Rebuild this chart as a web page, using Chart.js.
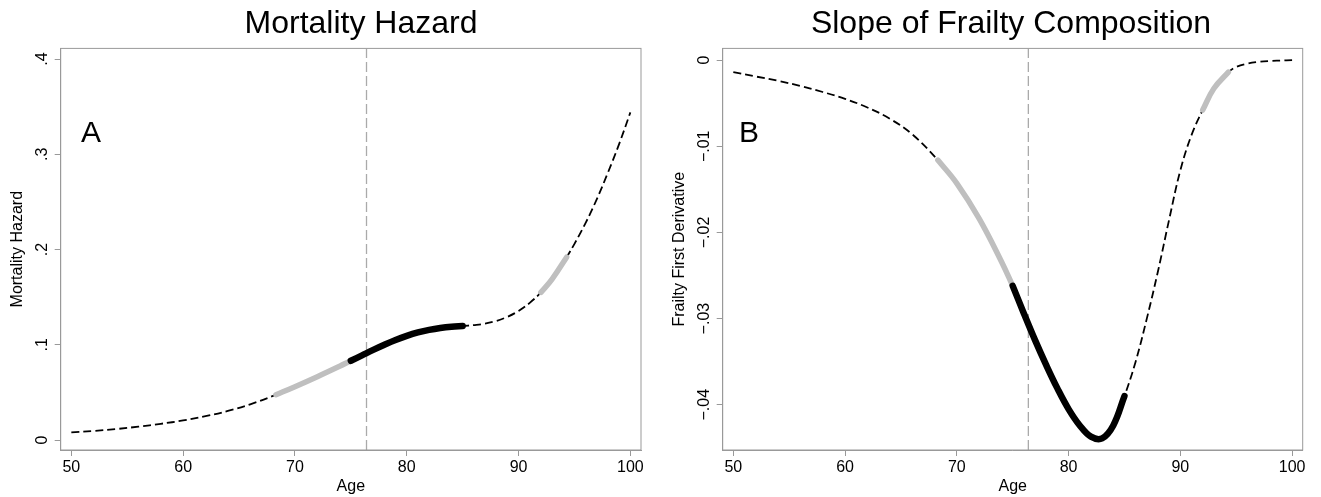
<!DOCTYPE html>
<html>
<head>
<meta charset="utf-8">
<script src="https://cdn.jsdelivr.net/npm/chart.js@4.4.1/dist/chart.umd.min.js"></script>
<style>
  html, body { margin: 0; padding: 0; background: #fff; overflow: hidden; }
  #wrap { position: relative; width: 1321px; height: 497px; overflow: hidden; background: #fff; }
  canvas { position: absolute; top: 0; }
  #hazardChart { left: 0; }
  #frailtyChart { left: 660px; }
</style>
</head>
<body>
<div id="wrap">
  <canvas id="hazardChart" width="722" height="497"></canvas>
  <canvas id="frailtyChart" width="702" height="497"></canvas>
</div>
<script>
// values (age on x)
const ages = [50, 52, 54, 56, 58, 60, 62, 64, 66, 68.3, 70, 72, 74, 75, 76, 77, 78, 79, 80,
  81, 82, 83, 84, 85, 86, 87, 88, 89, 90, 91, 92, 93, 94.3, 95, 96, 97, 98, 99, 100];
const hazard = [0.0080, 0.0095, 0.0115, 0.0140, 0.0170, 0.0205, 0.0250, 0.0305, 0.0375, 0.0475,
  0.0560, 0.0665, 0.0775, 0.0832, 0.0889, 0.0946, 0.1000, 0.1050, 0.1093, 0.1129, 0.1157,
  0.1177, 0.1190, 0.1197, 0.1207, 0.1222, 0.1250, 0.1293, 0.1355, 0.1440, 0.1550, 0.1690,
  0.1920, 0.2060, 0.2280, 0.2530, 0.2810, 0.3110, 0.3440];
const frailtySlope = [-0.0014, -0.0019, -0.0024, -0.0030, -0.0037, -0.0045, -0.0055, -0.0068,
  -0.0086, -0.0116, -0.0143, -0.0184, -0.0234, -0.0262, -0.0294, -0.0325, -0.0354, -0.0381,
  -0.0405, -0.0424, -0.0437, -0.0439, -0.0424, -0.0390, -0.0350, -0.0300, -0.0245, -0.0185,
  -0.0128, -0.0087, -0.0058, -0.0033, -0.0014, -0.0008, -0.0004, -0.0002, -0.0001, -0.00005, 0];

const xTicks = [50, 60, 70, 80, 90, 100];
const hazardTicks = [0, 0.1, 0.2, 0.3, 0.4];
const hazardTickLabels = ['0', '.1', '.2', '.3', '.4'];
const frailtyTicks = [0, -0.01, -0.02, -0.03, -0.04];
const frailtyTickLabels = ['0', '\u2212.01', '\u2212.02', '\u2212.03', '\u2212.04'];

const cutoffAge = 76.4;
const grayRanges = [[68.3, 75], [92, 94.3]];
const blackRange = [75, 85];

const FONT = '"Liberation Sans", Arial, Helvetica, sans-serif';

function points(values, from, to) {
  return ages.map((a, i) => ({ x: a, y: values[i] })).filter(p => p.x >= from && p.x <= to);
}

function makeDatasets(values, yMin, yMax) {
  return [
    { data: points(values, blackRange[0], blackRange[1]), borderColor: '#000', borderWidth: 6.5, borderCapStyle: 'round' },
    ...grayRanges.map(r => ({
      data: points(values, r[0], r[1]), borderColor: '#bfbfbf', borderWidth: 5.5, borderCapStyle: 'round'
    })),
    { data: points(values, 50, 100), borderColor: '#000', borderWidth: 1.8, borderDash: [8, 4] },
    {
      data: [{ x: cutoffAge, y: yMin }, { x: cutoffAge, y: yMax }],
      borderColor: '#aaa', borderWidth: 1.3, borderDash: [10, 4], tension: 0
    }
  ];
}

// plot box, rotated y tick labels and panel letter
const framePlugin = {
  id: 'frame',
  afterDraw(chart, args, opts) {
    const { ctx, chartArea: a } = chart;
    const y = chart.scales.y;
    ctx.save();
    ctx.strokeStyle = '#999';
    ctx.lineWidth = 1;
    ctx.strokeRect(a.left, a.top, a.right - a.left, a.bottom - a.top);
    ctx.fillStyle = '#000';
    ctx.font = '16px ' + FONT;
    ctx.textAlign = 'center';
    ctx.textBaseline = 'alphabetic';
    opts.ticks.forEach((v, i) => {
      ctx.save();
      ctx.translate(a.left - 14, y.getPixelForValue(v));
      ctx.rotate(-Math.PI / 2);
      ctx.fillText(opts.labels[i], 0, 0);
      ctx.restore();
    });
    ctx.font = '30px ' + FONT;
    ctx.fillText(opts.letter, opts.letterX, 142);
    ctx.restore();
  }
};

function makeOptions(cfg) {
  const gray = '#999';
  return {
    responsive: false,
    animation: false,
    events: [],
    layout: { padding: 0 },
    elements: {
      point: { radius: 0 },
      line: { tension: 0.4, fill: false }
    },
    plugins: {
      legend: { display: false },
      tooltip: { enabled: false },
      title: {
        display: true, text: cfg.title, color: '#000',
        font: { family: FONT, size: 32, weight: 'normal' },
        padding: { top: 5, bottom: 5 }
      },
      frame: { ticks: cfg.ticks, labels: cfg.labels, letter: cfg.letter, letterX: cfg.letterX }
    },
    scales: {
      x: {
        type: 'linear', min: 49.05, max: 100.95,
        afterBuildTicks: s => { s.ticks = xTicks.map(v => ({ value: v })); },
        afterFit: s => { s.height = 47; s.paddingLeft = 0; s.paddingRight = cfg.padRight; },
        grid: { drawOnChartArea: false, color: gray, tickLength: 6 },
        border: { color: gray },
        ticks: { color: '#000', font: { family: FONT, size: 16 }, padding: 2, maxRotation: 0, autoSkip: false },
        title: { display: true, text: 'Age', color: '#000', font: { family: FONT, size: 16 }, padding: { top: 0, bottom: 1 } }
      },
      y: {
        type: 'linear', min: cfg.yMin, max: cfg.yMax,
        afterBuildTicks: s => { s.ticks = cfg.ticks.map(v => ({ value: v })); },
        afterFit: s => { s.width = cfg.axisWidth; s.paddingTop = 0; s.paddingBottom = 0; },
        grid: { drawOnChartArea: false, color: gray, tickLength: 6 },
        border: { color: gray },
        ticks: { display: false },
        title: { display: true, text: cfg.yTitle, color: '#000', font: { family: FONT, size: 16 }, padding: { top: cfg.yTitlePad, bottom: 0 } }
      }
    }
  };
}

new Chart(document.getElementById('hazardChart'), {
  type: 'line',
  data: { datasets: makeDatasets(hazard, -0.0105, 0.4112) },
  options: makeOptions({
    title: 'Mortality Hazard', yTitle: 'Mortality Hazard',
    yMin: -0.0105, yMax: 0.4112, ticks: hazardTicks, labels: hazardTickLabels,
    axisWidth: 60.7, padRight: 81, yTitlePad: 8, letter: 'A', letterX: 91
  }),
  plugins: [framePlugin]
});

new Chart(document.getElementById('frailtyChart'), {
  type: 'line',
  data: { datasets: makeDatasets(frailtySlope, -0.04525, 0.00136) },
  options: makeOptions({
    title: 'Slope of Frailty Composition', yTitle: 'Frailty First Derivative',
    yMin: -0.04525, yMax: 0.00136, ticks: frailtyTicks, labels: frailtyTickLabels,
    axisWidth: 62.7, padRight: 59.3, yTitlePad: 10, letter: 'B', letterX: 89
  }),
  plugins: [framePlugin]
});
</script>
</body>
</html>
